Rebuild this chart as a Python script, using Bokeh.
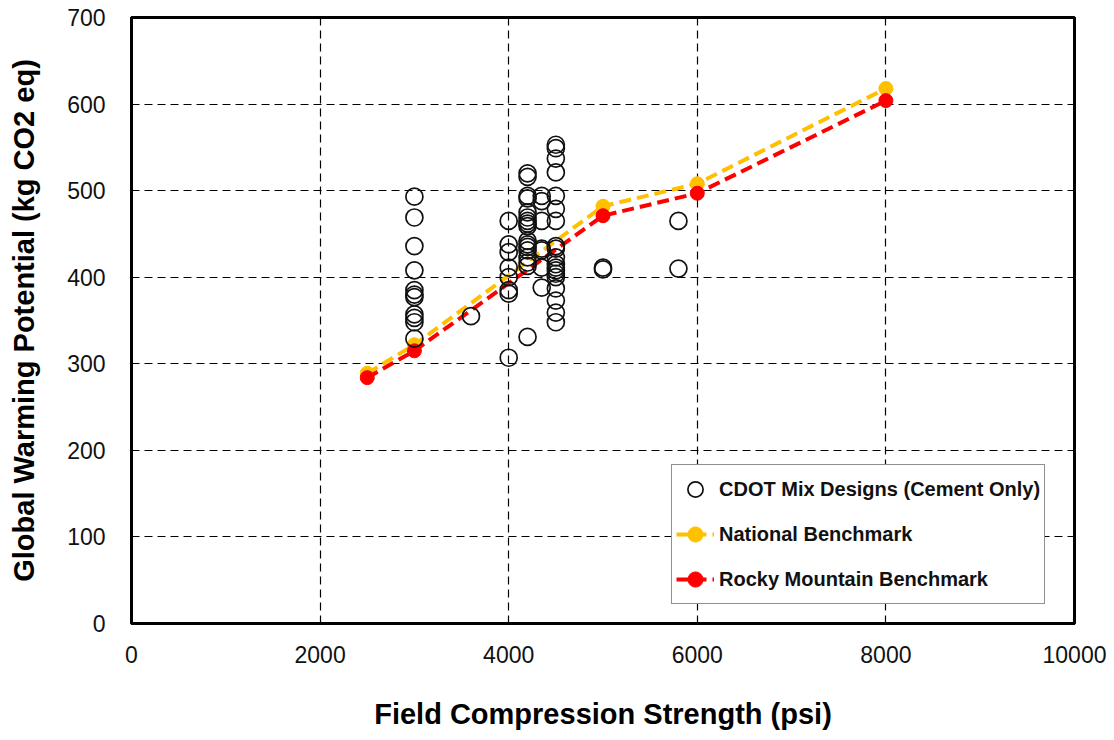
from bokeh.plotting import figure
from bokeh.models import Range1d, FixedTicker, Legend, LegendItem
from bokeh.embed import file_html
from bokeh.resources import INLINE

# CDOT mix designs (cement only): field compression strength (psi) vs GWP (kg CO2 eq)
mix_psi = (
    [3000] * 11
    + [3600]
    + [4000] * 8
    + [4200] * 17
    + [4350] * 7
    + [4500] * 19
    + [5000] * 2
    + [5800] * 2
)
mix_gwp = (
    [493, 469, 436, 408, 385, 380, 377, 357, 353, 348, 329]
    + [355]
    + [465, 438, 429, 411, 400, 385, 381, 307]
    + [520, 516, 494, 491, 475, 469, 465, 462, 459, 442, 438, 435, 431, 423, 417, 413, 331]
    + [494, 488, 465, 433, 431, 411, 388]
    + [553, 549, 537, 521, 494, 479, 465, 436, 433, 423, 415, 411, 408, 404, 400, 387, 373, 359, 348]
    + [409, 411]
    + [465, 410]
)

# Benchmarks
bench_psi = [2500, 3000, 5000, 6000, 8000]
national_gwp = [289, 322, 482, 508, 618]
rocky_gwp = [284, 315, 471, 497, 604]

x_ticks = [0, 2000, 4000, 6000, 8000, 10000]
y_ticks = [0, 100, 200, 300, 400, 500, 600, 700]

FONT = "Liberation Sans"
ORANGE = "#FFC000"
RED = "#FF0000"

p = figure(
    width=1114, height=740,
    x_range=Range1d(0, 10000), y_range=Range1d(0, 700),
    output_backend="svg", toolbar_location=None,
    min_border_left=131, min_border_right=40,
    min_border_top=17, min_border_bottom=117,
)
p.background_fill_color = "white"
p.border_fill_color = "white"
p.outline_line_color = "black"
p.outline_line_width = 3

# grid
p.xgrid.ticker = FixedTicker(ticks=x_ticks)
p.ygrid.ticker = FixedTicker(ticks=y_ticks)
for g in (p.xgrid, p.ygrid):
    g.grid_line_color = "black"
    g.grid_line_width = 1.2
    g.grid_line_dash = "8 5"

# axes
for ax in (p.xaxis, p.yaxis):
    ax.axis_line_color = "black"
    ax.axis_line_width = 3
    ax.major_tick_line_color = None
    ax.minor_tick_line_color = None
    ax.major_label_text_font = FONT
    ax.major_label_text_font_size = "23px"
    ax.major_label_text_color = "#111111"
    ax.axis_label_text_font = FONT
    ax.axis_label_text_font_style = "bold"
    ax.axis_label_text_font_size = "29px"
    ax.axis_label_text_color = "black"
p.xaxis.ticker = FixedTicker(ticks=x_ticks)
p.yaxis.ticker = FixedTicker(ticks=y_ticks)
p.xaxis.major_label_standoff = 16
p.yaxis.major_label_standoff = 20
p.xaxis.axis_label = "Field Compression Strength (psi)"
p.yaxis.axis_label = "Global Warming Potential (kg CO2 eq)"
p.xaxis.axis_label_standoff = 32
p.yaxis.axis_label_standoff = 24

# benchmark lines
nat_line = p.line(bench_psi, national_gwp, line_color=ORANGE, line_width=4, line_dash="12 6")
nat_pts = p.scatter(bench_psi, national_gwp, marker="circle", size=14,
                    fill_color=ORANGE, line_color=ORANGE)
rm_line = p.line(bench_psi, rocky_gwp, line_color=RED, line_width=4, line_dash="12 6")
rm_pts = p.scatter(bench_psi, rocky_gwp, marker="circle", size=14,
                   fill_color=RED, line_color=RED)

# mix design points
mix = p.scatter(mix_psi, mix_gwp, marker="circle", size=17,
                fill_alpha=0, line_color="#111111", line_width=1.7)

legend = Legend(
    items=[
        LegendItem(label="CDOT Mix Designs (Cement Only)", renderers=[mix]),
        LegendItem(label="National Benchmark", renderers=[nat_line, nat_pts]),
        LegendItem(label="Rocky Mountain Benchmark", renderers=[rm_line, rm_pts]),
    ],
    location=(540, 19),
    orientation="vertical",
    padding=4, spacing=5,
    glyph_width=38, glyph_height=40, label_height=40,
    label_standoff=5,
    label_text_font=FONT, label_text_font_style="bold",
    label_text_font_size="20px", label_text_color="#111111",
    border_line_color="#222222", border_line_width=1.5,
    background_fill_color="white", background_fill_alpha=1,
    margin=0,
)
p.add_layout(legend, "center")

open("out.html", "w").write(file_html(p, INLINE))
